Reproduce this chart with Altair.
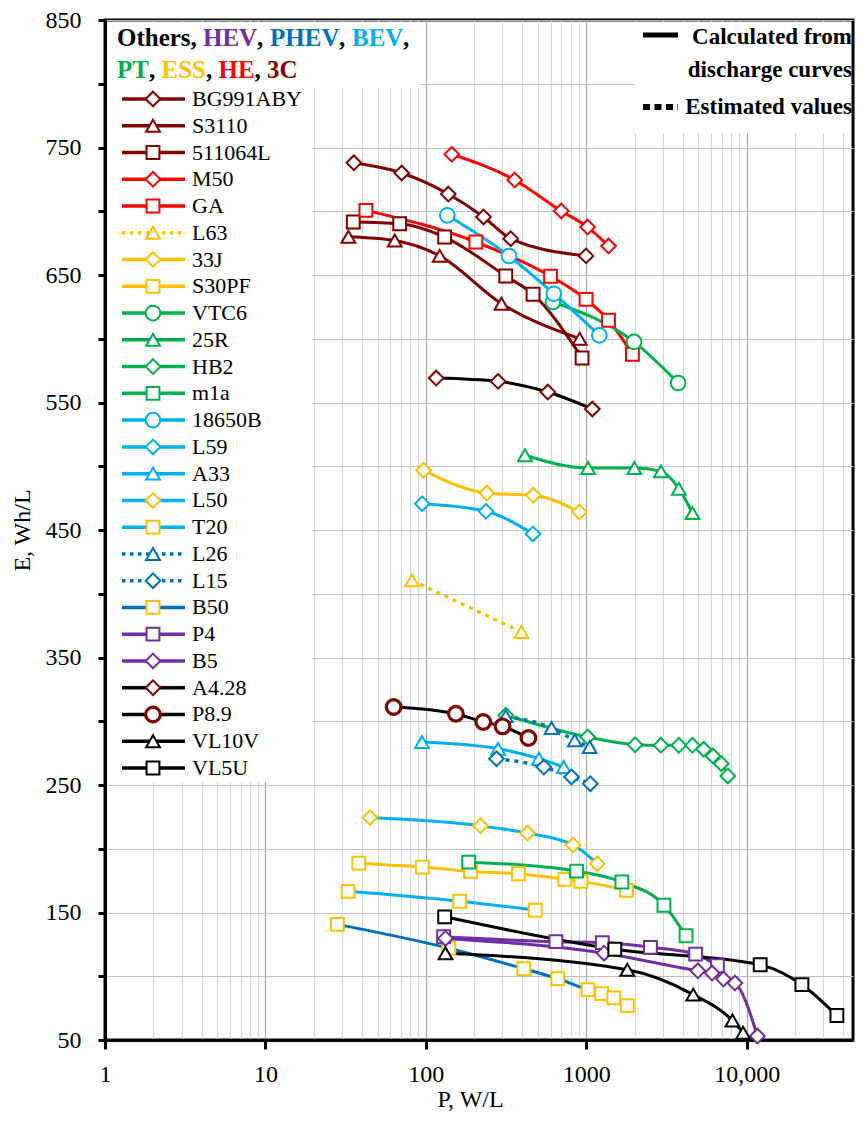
import altair as alt
import pandas as pd

# ---------------- data (P in W/L, E in Wh/L) ----------------
BG991ABY_P = [35.6, 70.7, 138, 229, 338, 997]
BG991ABY_E = [738, 730, 713.5, 695.5, 678.5, 665]
S3110_P = [32.9, 64, 122, 296, 910]
S3110_E = [680, 677, 665, 627.5, 600]
L511064L_P = [35.3, 68.7, 131, 315, 466, 942]
L511064L_E = [691.6, 690.2, 679.8, 649.2, 634.9, 584.9]
M50_P = [145, 358, 698, 1021, 1377]
M50_E = [744.7, 724.5, 700.2, 687.6, 672.7]
GA_P = [42.3, 205, 599, 997, 1377, 1940]
GA_E = [700.7, 675.9, 649, 630.9, 614.5, 587.8]
L63_P = [82, 394]
L63_E = [410.5, 370]
J33_P = [96.8, 240, 468, 906]
J33_E = [496.8, 479, 477.2, 464.1]
S30PF_P = [38.2, 95, 190, 378, 735, 926, 1783]
S30PF_E = [188.7, 185.6, 182.2, 180.4, 176, 174.4, 167.4]
VTC6_P = [619, 1987, 3740]
VTC6_E = [628.8, 597.5, 565.3]
R25_P = [415, 1026, 1995, 2922, 3777, 4592]
R25_E = [508.6, 498.6, 498.6, 496, 482.4, 463.3]
HB2_P = [315, 1020, 2015, 2922, 3777, 4592, 5397, 6166, 6950, 7637]
HB2_E = [304.7, 287.6, 281.6, 281.1, 281.1, 281.1, 278, 272.7, 266.7, 257.1]
M1A_P = [185, 871, 1668, 3050, 4188]
M1A_E = [189.5, 182.5, 173.9, 155.7, 131.8]
B18650_P = [136, 330, 628, 1206]
B18650_E = [696.8, 664.9, 635.3, 602.7]
L59_P = [95, 237, 465]
L59_E = [470.6, 464.7, 446.9]
A33_P = [94.6, 282, 507, 724]
A33_E = [283.7, 278.5, 270.6, 264.1]
L50_P = [44.8, 219, 430, 828, 1172]
L50_E = [224.5, 218, 212.3, 203, 188.2]
T20_P = [32.8, 162.6, 481]
T20_E = [166.6, 158.8, 151.8]
L26_P = [315, 608, 848, 1050]
L26_E = [304, 294.7, 285, 279.8]
L15_P = [276, 544, 809, 1060]
L15_E = [270.6, 264.1, 256.3, 251]
B50_P = [28.1, 139, 408, 664, 1026, 1247, 1483, 1802]
B50_E = [140.7, 122, 105.9, 98.1, 89.5, 86.4, 83, 77]
P4_P = [129, 647, 1259, 2512, 4810, 6570]
P4_E = [131, 127.1, 126.4, 122.7, 117.3, 108.2]
B5_P = [132.5, 1291, 4962, 6087, 7170, 8450, 11670]
B5_E = [129.7, 118.1, 104.3, 102.5, 97.8, 94.7, 53.1]
A428_P = [116, 282, 576, 1091]
A428_E = [569.2, 566.6, 558.2, 544.9]
P89_P = [63, 154, 228, 301, 436]
P89_E = [311.2, 305.9, 299.4, 296, 286.9]
VL10V_P = [132.5, 1802, 4642, 8147, 9500]
VL10V_E = [118, 105.1, 85.6, 65.3, 55.7]
VL5U_P = [131, 1506, 12140, 22090, 36500]
VL5U_E = [146.6, 121.2, 109, 93.4, 69.2]

X_TICKS = [d * 10 ** k for k in range(0, 5) for d in range(1, 10) if d * 10 ** k <= 40000]
Y_TICKS = list(range(50, 851, 50))

# ---------------- styles ----------------
C3, HE, ESS, PT, BEV, PHEV, HEV, OTH = ("#800000", "#FF0000", "#FFC000", "#00B050",
                                        "#00B0F0", "#0070C0", "#7030A0", "#000000")
SERIES = [
    ("BG991ABY", BG991ABY_P, BG991ABY_E, C3, C3, "diamond", False),
    ("S3110", S3110_P, S3110_E, C3, C3, "triangle-up", False),
    ("511064L", L511064L_P, L511064L_E, C3, C3, "square", False),
    ("M50", M50_P, M50_E, HE, HE, "diamond", False),
    ("GA", GA_P, GA_E, HE, HE, "square", False),
    ("L63", L63_P, L63_E, ESS, ESS, "triangle-up", True),
    ("33J", J33_P, J33_E, ESS, ESS, "diamond", False),
    ("S30PF", S30PF_P, S30PF_E, ESS, ESS, "square", False),
    ("VTC6", VTC6_P, VTC6_E, PT, PT, "circle", False),
    ("25R", R25_P, R25_E, PT, PT, "triangle-up", False),
    ("HB2", HB2_P, HB2_E, PT, PT, "diamond", False),
    ("m1a", M1A_P, M1A_E, PT, PT, "square", False),
    ("18650B", B18650_P, B18650_E, BEV, BEV, "circle", False),
    ("L59", L59_P, L59_E, BEV, BEV, "diamond", False),
    ("A33", A33_P, A33_E, BEV, BEV, "triangle-up", False),
    ("L50", L50_P, L50_E, BEV, ESS, "diamond", False),
    ("T20", T20_P, T20_E, BEV, ESS, "square", False),
    ("L26", L26_P, L26_E, PHEV, PHEV, "triangle-up", True),
    ("L15", L15_P, L15_E, PHEV, PHEV, "diamond", True),
    ("B50", B50_P, B50_E, PHEV, ESS, "square", False),
    ("P4", P4_P, P4_E, HEV, HEV, "square", False),
    ("B5", B5_P, B5_E, HEV, HEV, "diamond", False),
    ("A4.28", A428_P, A428_E, OTH, C3, "diamond", False),
    ("P8.9", P89_P, P89_E, OTH, C3, "circle", False),
    ("VL10V", VL10V_P, VL10V_E, OTH, OTH, "triangle-up", False),
    ("VL5U", VL5U_P, VL5U_E, OTH, OTH, "square", False),
]
SIZE = {"diamond": 215, "square": 165, "circle": 215, "triangle-up": 190}
THICK = {"P8.9": 3.2}
NAMES = [s[0] for s in SERIES]

rows, leg = [], []
for i, (name, P, E, lc, mc, shp, dot) in enumerate(SERIES):
    sw = THICK.get(name, 2.0)
    for p, e in zip(P, E):
        rows.append(dict(series=name, P=p, E=e, lc=lc, mc=mc, shape=shp, dotted=dot,
                         size=SIZE[shp], sw=sw, idx=i))
    leg.append(dict(series=name, lc=lc, mc=mc, shape=shp, dotted=dot, size=SIZE[shp], sw=sw))
df = pd.DataFrame(rows)
dleg = pd.DataFrame(leg)

SERIF = "Liberation Serif"
W, H = 748, 1020

xscale = alt.Scale(type="log", domain=[1, 46000], nice=False)
yscale = alt.Scale(domain=[50, 850], nice=False, zero=False)
major_test = "indexof([1,10,100,1000,10000], datum.value) >= 0"

xaxis = alt.Axis(
    values=X_TICKS, grid=True,
    gridColor={"condition": {"test": major_test, "value": "#a8a8a8"}, "value": "#d6d6d6"},
    gridWidth=1.2,
    tickOpacity={"condition": {"test": major_test, "value": 1}, "value": 0},
    tickColor="black", tickWidth=3, tickSize=9,
    labelExpr="indexof([1,10,100,1000,10000], datum.value) >= 0 ? (datum.value == 10000 ? '10,000' : format(datum.value, 'd')) : ''",
    labelFont=SERIF, labelFontSize=24, labelColor="black", labelPadding=13,
    labelFlush=False, labelOverlap=False,
    domainColor="black", domainWidth=3,
    title="P, W/L", titleFont=SERIF, titleFontSize=24, titleFontWeight="normal",
    titleColor="black", titleX=365, titleY=59, titleBaseline="middle", titleAlign="center",
)
yaxis = alt.Axis(
    values=Y_TICKS, grid=True, gridColor="#bfbfbf", gridWidth=1.2,
    tickColor="black", tickWidth=3, tickSize=7,
    labelExpr="datum.value % 100 == 50 ? datum.label : ''",
    labelFont=SERIF, labelFontSize=24, labelColor="black", labelPadding=17,
    labelOverlap=False,
    domainColor="black", domainWidth=3,
    title="E, Wh/L", titleFont=SERIF, titleFontSize=24, titleFontWeight="normal",
    titleColor="black", titleX=-83, titleY=510, titleAngle=270,
    titleBaseline="middle", titleAlign="center",
)

base = alt.Chart(df)
x_enc = alt.X("P:Q", scale=xscale, axis=xaxis)
y_enc = alt.Y("E:Q", scale=yscale, axis=yaxis)
x_na = alt.X("P:Q", scale=xscale, axis=None)
y_na = alt.Y("E:Q", scale=yscale, axis=None)

lines_solid = base.transform_filter("!datum.dotted").mark_line(
    strokeWidth=3, interpolate="monotone").encode(
    x=x_enc, y=y_enc, detail="series:N", color=alt.Color("lc:N", scale=None))
lines_dot = base.transform_filter("datum.dotted").mark_line(
    strokeWidth=3.5, strokeDash=[4, 5], interpolate="monotone").encode(
    x=x_na, y=y_na, detail="series:N", color=alt.Color("lc:N", scale=None))
points = base.mark_point(fill="white", filled=False, opacity=1, fillOpacity=1).encode(
    x=x_na, y=y_na,
    stroke=alt.Stroke("mc:N", scale=None),
    shape=alt.Shape("shape:N", scale=None),
    size=alt.Size("size:Q", scale=None),
    strokeWidth=alt.StrokeWidth("sw:Q", scale=None),
    order=alt.Order("idx:Q"),
)

# ---------------- legend / annotation overlay ----------------
one = pd.DataFrame({"a": [0]})


def box(x1, x2, y1, y2):
    return alt.Chart(one).mark_rect(fill="white").encode(
        x=alt.value(x1), x2=alt.value(x2), y=alt.value(y1), y2=alt.value(y2))


def label(t, c, x, y, size, align="left"):
    return alt.Chart(one).mark_text(align=align, baseline="middle", font=SERIF, fontSize=size,
                                    fontWeight="bold", color=c, text=t).encode(
        x=alt.value(x), y=alt.value(y))


legy = alt.Y("series:N", scale=alt.Scale(type="point", domain=NAMES, range=[79, 748], padding=0),
             axis=None)
lb = alt.Chart(dleg)
leg_solid = lb.transform_filter("!datum.dotted").mark_rule(strokeWidth=3.5).encode(
    x=alt.value(17), x2=alt.value(80), y=legy, color=alt.Color("lc:N", scale=None))
leg_dot = lb.transform_filter("datum.dotted").mark_rule(strokeWidth=3.5, strokeDash=[3.5, 4.5]).encode(
    x=alt.value(17), x2=alt.value(80), y=legy, color=alt.Color("lc:N", scale=None))
leg_pts = lb.mark_point(fill="white", filled=False, opacity=1, fillOpacity=1).encode(
    x=alt.value(48), y=legy,
    stroke=alt.Stroke("mc:N", scale=None),
    shape=alt.Shape("shape:N", scale=None),
    size=alt.Size("size:Q", scale=None),
    strokeWidth=alt.StrokeWidth("sw:Q", scale=None))
leg_txt = lb.mark_text(align="left", baseline="middle", font=SERIF, fontSize=22, color="black").encode(
    x=alt.value(87), y=legy, text="series:N")

HEAD_T = ["Others,", "HEV", ",", "PHEV", ",", "BEV", ",", "PT", ",", "ESS", ",", "HE", ",", "3C"]
HEAD_C = [OTH, HEV, OTH, PHEV, OTH, BEV, OTH, PT, OTH, ESS, OTH, HE, OTH, C3]
HEAD_X = [12, 98, 152, 165, 234, 247, 298, 12, 44, 56.5, 101, 113.5, 149.6, 162]
HEAD_Y = [18] * 7 + [50] * 7
head = [label(t, c, x, y, 25) for t, c, x, y in zip(HEAD_T, HEAD_C, HEAD_X, HEAD_Y)]

RL_T = ["Calculated from", "discharge curves", "Estimated values"]
RL_Y = [17, 50, 87]
rl_txt = [label(t, "black", 747, y, 23, align="right") for t, y in zip(RL_T, RL_Y)]
rl_solid = alt.Chart(one).mark_rule(strokeWidth=5, color="black").encode(
    x=alt.value(538), x2=alt.value(573), y=alt.value(15))
rl_dot = alt.Chart(one).mark_rule(strokeWidth=6, color="black", strokeDash=[7, 4.5]).encode(
    x=alt.value(538), x2=alt.value(573), y=alt.value(87))

layers = [lines_solid, lines_dot, points,
          box(2, 207, 2, 762), box(2, 315, 2, 68), box(530, W - 2, 2, 113),
          leg_solid, leg_dot, leg_pts, leg_txt] + head + rl_txt + [rl_solid, rl_dot]

chart = alt.layer(*layers).resolve_scale(x="independent", y="independent").properties(
    width=W, height=H,
    background="white",
    autosize=alt.AutoSizeParams(type="none"),
    padding={"left": 97, "top": 12, "right": 3, "bottom": 75},
).configure_view(stroke="black", strokeWidth=3)

chart.save("out.html", embed_options={"renderer": "svg", "actions": False})
